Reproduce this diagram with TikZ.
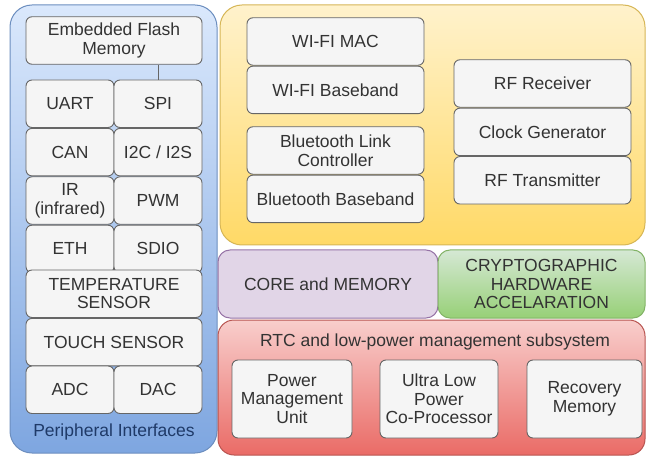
\documentclass[tikz,border=0pt]{standalone}
\usepackage{fontspec}
\setmainfont{Liberation Sans}
\usepackage{xcolor}
\usetikzlibrary{positioning}
\definecolor{txt}{HTML}{333333}
\definecolor{boxfill}{HTML}{F5F5F5}
\definecolor{boxline}{HTML}{666666}
\definecolor{bluetop}{HTML}{DAE8FC}
\definecolor{bluebot}{HTML}{7EA6E0}
\definecolor{blueline}{HTML}{6C8EBF}
\definecolor{bluetxt}{HTML}{1F3A68}
\definecolor{yeltop}{HTML}{FFF2CC}
\definecolor{yelbot}{HTML}{FFD966}
\definecolor{yelline}{HTML}{D6B656}
\definecolor{purfill}{HTML}{E1D5E7}
\definecolor{purline}{HTML}{9673A6}
\definecolor{grntop}{HTML}{D5E8D4}
\definecolor{grnbot}{HTML}{97D077}
\definecolor{grnline}{HTML}{82B366}
\definecolor{redtop}{HTML}{F8CECC}
\definecolor{redbot}{HTML}{EA6B66}
\definecolor{redline}{HTML}{B85450}

\begin{document}
\begin{tikzpicture}[x=1pt, y=-1pt,
  group/.style={draw, rounded corners=22pt, inner sep=0pt, line width=1pt},
  block/.style={draw=boxline, fill=boxfill, rounded corners=6pt, text=txt, align=center,
                inner sep=0pt, minimum height=47.5pt, line width=0.9pt,
                font=\fontsize{17.5}{18.5}\selectfont},
  half/.style={block, minimum width=88pt},
  full/.style={block, minimum width=176pt},
  radio/.style={block, minimum width=177pt},
  rtcblk/.style={block, minimum height=78pt},
  title/.style={text=txt, align=center, font=\fontsize{17.5}{18.5}\selectfont}
]
\useasboundingbox (0,0) rectangle (648,457);

\node[group, draw=blueline, top color=bluetop, bottom color=bluebot,
      minimum width=207pt, minimum height=448pt] (periph) at (113.5,229) {};
\node[group, draw=yelline, top color=yeltop, bottom color=yelbot,
      minimum width=425pt, minimum height=240pt] (wireless) at (432.5,125) {};
\node[group, draw=purline, fill=purfill, rounded corners=12pt,
      minimum width=220pt, minimum height=68pt] (core) at (328,284) {};
\node[group, draw=grnline, top color=grntop, bottom color=grnbot, rounded corners=12pt,
      minimum width=207pt, minimum height=68pt] (crypto) at (541.5,284) {};
\node[group, draw=redline, top color=redtop, bottom color=redbot, rounded corners=16pt,
      minimum width=427pt, minimum height=135pt] (rtc) at (431.5,387.5) {};

\node[full] (flash) at (114,40.5) {Embedded Flash\\Memory};
\node[half] (uart) at (70,103.75) {UART};
\node[half] (spi) at (158,103.75) {SPI};
\node[half, below=0pt of uart] (can) {CAN};
\node[half, below=0pt of spi] (i2c) {I2C / I2S};
\node[half, below=0pt of can] (ir) {IR\\(infrared)};
\node[half, below=0pt of i2c] (pwm) {PWM};
\node[half, below=0pt of ir] (eth) {ETH};
\node[half, below=0pt of pwm] (sdio) {SDIO};
\node[full] (temp) at (114,293.75) {TEMPERATURE\\SENSOR};
\node[full, below=0pt of temp] (touch) {TOUCH SENSOR};
\node[half] (adc) at (70,389.75) {ADC};
\node[half] (dac) at (158,389.75) {DAC};
\node[title, text=bluetxt] (perlbl) at (114,432) {Peripheral Interfaces};
\draw[boxline, line width=1pt] (spi.north) -- (flash.south -| spi.north);

\node[radio] (wmac) at (335.5,41.5) {WI-FI MAC};
\node[radio, below=0pt of wmac] (wbb) {WI-FI Baseband};
\node[radio] (btlink) at (335.5,150.5) {Bluetooth Link\\Controller};
\node[radio, below=0pt of btlink] (btbb) {Bluetooth Baseband};
\node[radio] (rfrx) at (542.5,83.5) {RF Receiver};
\node[radio, below=0pt of rfrx] (clkgen) {Clock Generator};
\node[radio, below=0pt of clkgen] (rftx) {RF Transmitter};

\node[title] at (core.center) {CORE and MEMORY};
\node[title] at (crypto.center) {CRYPTOGRAPHIC\\HARDWARE\\ACCELARATION};

\node[title] (rtclbl) at (435,342) {RTC and low-power management subsystem};
\node[rtcblk, minimum width=120pt] (pmu) at (292,399) {Power\\Management\\Unit};
\node[rtcblk, minimum width=118pt] (ulp) at (439,399) {Ultra Low\\Power\\Co-Processor};
\node[rtcblk, minimum width=115pt] (rmem) at (584.5,399) {Recovery\\Memory};
\end{tikzpicture}
\end{document}
